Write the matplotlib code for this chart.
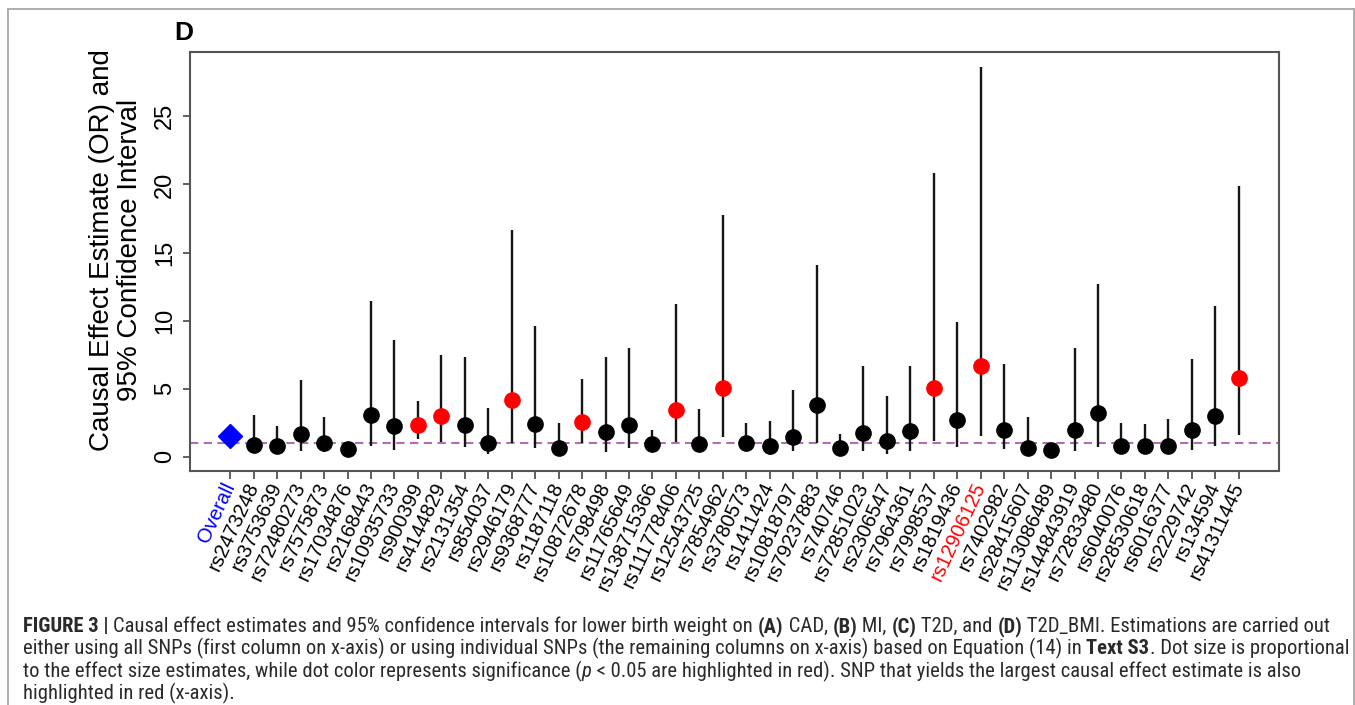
import matplotlib
matplotlib.use('Agg')
import matplotlib.pyplot as plt
from matplotlib import font_manager as fm
from matplotlib.lines import Line2D

# ---------------- data ----------------
snps = ["Overall", "rs2473248", "rs3753639", "rs72480273", "rs7575873", "rs17034876",
        "rs2168443", "rs10935733", "rs900399", "rs4144829", "rs2131354", "rs854037",
        "rs2946179", "rs9368777", "rs1187118", "rs10872678", "rs798498", "rs11765649",
        "rs138715366", "rs111778406", "rs12543725", "rs7854962", "rs3780573", "rs1411424",
        "rs10818797", "rs79237883", "rs740746", "rs72851023", "rs2306547", "rs7964361",
        "rs7998537", "rs1819436", "rs12906125", "rs7402982", "rs28415607", "rs113086489",
        "rs144843919", "rs72833480", "rs6040076", "rs28530618", "rs6016377", "rs2229742",
        "rs134594", "rs41311445"]
estimate = [1.52, 0.86, 0.76, 1.66, 0.98, 0.56, 3.10, 2.25, 2.35, 3.00, 2.35, 0.98,
            4.20, 2.44, 0.66, 2.54, 1.83, 2.35, 0.95, 3.42, 0.95, 5.08, 1.05, 0.78,
            1.47, 3.79, 0.68, 1.76, 1.17, 1.86, 5.08, 2.69, 6.65, 1.96, 0.66, 0.49,
            1.96, 3.23, 0.78, 0.78, 0.78, 1.96, 3.03, 5.79]
ci_low = [1.30, 0.42, 0.49, 0.42, 0.32, 0.30, 0.78, 0.49, 1.34, 1.10, 0.73, 0.24,
          1.03, 0.61, 0.37, 1.03, 0.37, 0.61, 0.49, 1.08, 0.34, 1.42, 0.44, 0.12,
          0.42, 0.99, 0.37, 0.42, 0.24, 0.42, 1.17, 0.73, 1.52, 0.54, 0.24, 0.12,
          0.42, 0.73, 0.24, 0.37, 0.37, 0.49, 0.78, 1.59]
ci_high = [1.78, 3.10, 2.25, 5.67, 2.93, 0.90, 11.44, 8.60, 4.11, 7.45, 7.33, 3.59,
           16.62, 9.58, 2.49, 5.74, 7.33, 8.02, 2.00, 11.24, 3.52, 17.79, 2.49, 2.61,
           4.89, 14.10, 1.71, 6.65, 4.50, 6.65, 20.82, 9.87, 28.59, 6.84, 2.93, 1.03,
           8.02, 12.71, 2.49, 2.44, 2.74, 7.21, 11.05, 19.87]
significant = [False, False, False, False, False, False, False, False, True, True, False, False,
               True, False, False, True, False, False, False, True, False, True, False, False,
               False, False, False, False, False, False, True, False, True, False, False, False,
               False, False, False, False, False, False, False, True]
y_ticks = [0, 5, 10, 15, 20, 25]
reference_or = 1.0

# ---------------- fonts ----------------
ttf = fm.fontManager.ttflist
avail = {f.name for f in ttf}
chart_font = 'Liberation Sans' if 'Liberation Sans' in avail else 'DejaVu Sans'
cap_font, cap_stretch = None, 'normal'
for cand in ['Liberation Sans Narrow', 'Roboto Condensed', 'Open Sans Condensed',
             'Noto Sans Condensed', 'Arial Narrow', 'DejaVu Sans Condensed']:
    if cand in avail:
        cap_font = cand
        break
if cap_font is None:
    for fam in ['Roboto', 'Noto Sans', 'DejaVu Sans', 'Open Sans']:
        if any(f.name == fam and 'condensed' in str(f.stretch).lower() for f in ttf):
            cap_font, cap_stretch = fam, 'condensed'
            break
if cap_font is None:
    cap_font = 'Roboto' if 'Roboto' in avail else chart_font
plt.rcParams['font.family'] = [chart_font, 'DejaVu Sans']

W, H = 1355, 705
fig = plt.figure(figsize=(W / 100, H / 100), dpi=100)
fig.patch.set_facecolor('white')

def fx(x):
    return x / W

def fy(y):
    return 1 - y / H

# ---------------- axes ----------------
left, right, top, bottom = 190, 1279, 52.3, 470.7
ax = fig.add_axes([fx(left), fy(bottom), (right - left) / W, (bottom - top) / H])
n = len(snps)
pos = list(range(1, n + 1))

ax.axhline(reference_or, color='#b070b0', lw=1.5, dashes=(4, 2.6), zorder=1)
ax.vlines(pos, ci_low, ci_high, color='#151515', lw=1.7, zorder=2)
for i in range(n):
    if i == 0:
        ax.plot(pos[i], estimate[i], marker='D', ms=12, color='#0000ff', mec='#0000ff', zorder=3)
    else:
        c = '#ff0000' if significant[i] else '#000000'
        ax.plot(pos[i], estimate[i], marker='o', ms=11, color=c, mec=c, zorder=3)

ax.set_xlim(1 - 0.04 * (n - 1), n + 0.04 * (n - 1))
ax.set_ylim(-1.02, 29.7)
for s in ax.spines.values():
    s.set_color('#555555')
    s.set_linewidth(1.5)

ax.set_yticks(y_ticks)
ax.set_yticklabels([str(v) for v in y_ticks], rotation=90, va='center', fontsize=17)
ax.tick_params(axis='y', length=5, width=1.2, color='#444444', pad=5)

ax.set_xticks(pos)
ax.set_xticklabels(snps, rotation=65, ha='right', va='center',
                   rotation_mode='anchor', fontsize=14.5)
ax.tick_params(axis='x', length=6, width=1.2, color='#444444', pad=3)
labs = ax.get_xticklabels()
labs[0].set_color('#0000ff')
labs[snps.index('rs12906125')].set_color('#ff0000')

fig.text(fx(116), fy(250), 'Causal Effect Estimate (OR) and\n95% Confidence Interval',
         rotation=90, ha='center', va='center', multialignment='center',
         fontsize=20, linespacing=1.1)
fig.text(fx(184), fy(33), 'D', fontsize=19, fontweight='bold', ha='center', va='center')

# ---------------- outer frame ----------------
fc = '#a8a8a8'
fig.add_artist(Line2D([fx(8), fx(8)], [fy(9), 0], color=fc, lw=1.3, transform=fig.transFigure))
fig.add_artist(Line2D([fx(8), fx(1353.5)], [fy(9), fy(9)], color=fc, lw=1.3, transform=fig.transFigure))
fig.add_artist(Line2D([fx(1353.5), fx(1353.5)], [fy(9), 0], color=fc, lw=1.3, transform=fig.transFigure))

# ---------------- caption ----------------
cap_lines = [
    [("FIGURE 3 | ", 'bold', 'normal'),
     ("Causal effect estimates and 95% confidence intervals for lower birth weight on ", 'normal', 'normal'),
     ("(A)", 'bold', 'normal'), (" CAD, ", 'normal', 'normal'),
     ("(B)", 'bold', 'normal'), (" MI, ", 'normal', 'normal'),
     ("(C)", 'bold', 'normal'), (" T2D, and ", 'normal', 'normal'),
     ("(D)", 'bold', 'normal'), (" T2D_BMI. Estimations are carried out", 'normal', 'normal')],
    [("either using all SNPs (first column on x-axis) or using individual SNPs (the remaining columns on x-axis) based on Equation (14) in ", 'normal', 'normal'),
     ("Text S3", 'bold', 'normal'), (". Dot size is proportional", 'normal', 'normal')],
    [("to the effect size estimates, while dot color represents significance (", 'normal', 'normal'),
     ("p", 'normal', 'italic'),
     (" < 0.05 are highlighted in red). SNP that yields the largest causal effect estimate is also", 'normal', 'normal')],
    [("highlighted in red (x-axis).", 'normal', 'normal')],
]
renderer = fig.canvas.get_renderer()

def make(x, y, s, wt, st, size):
    return fig.text(x, y, s, fontsize=size, fontweight=wt, fontstyle=st,
                    family=[cap_font, 'DejaVu Sans'], fontstretch=cap_stretch)

def adv(s, wt, st, size):
    t1 = make(0, 0, '|' + s + '|', wt, st, size)
    t2 = make(0, 0, '||', wt, st, size)
    w = t1.get_window_extent(renderer).width - t2.get_window_extent(renderer).width
    t1.remove(); t2.remove()
    return w

base = 12.0
w1 = sum(adv(s, wt, st, base) for s, wt, st in cap_lines[0])
cap_size = base * (1328 - 23) / w1
cap_base = [632, 654.5, 677, 699.5]
for line, yy in zip(cap_lines, cap_base):
    x = 23.0
    for s, wt, st in line:
        t = make(fx(x), fy(yy), s, wt, st, cap_size)
        t.set_color('#2a2a2a')
        t.set_ha('left')
        t.set_va('baseline')
        x += adv(s, wt, st, cap_size)

fig.savefig('out.png', dpi=100, facecolor='white')
